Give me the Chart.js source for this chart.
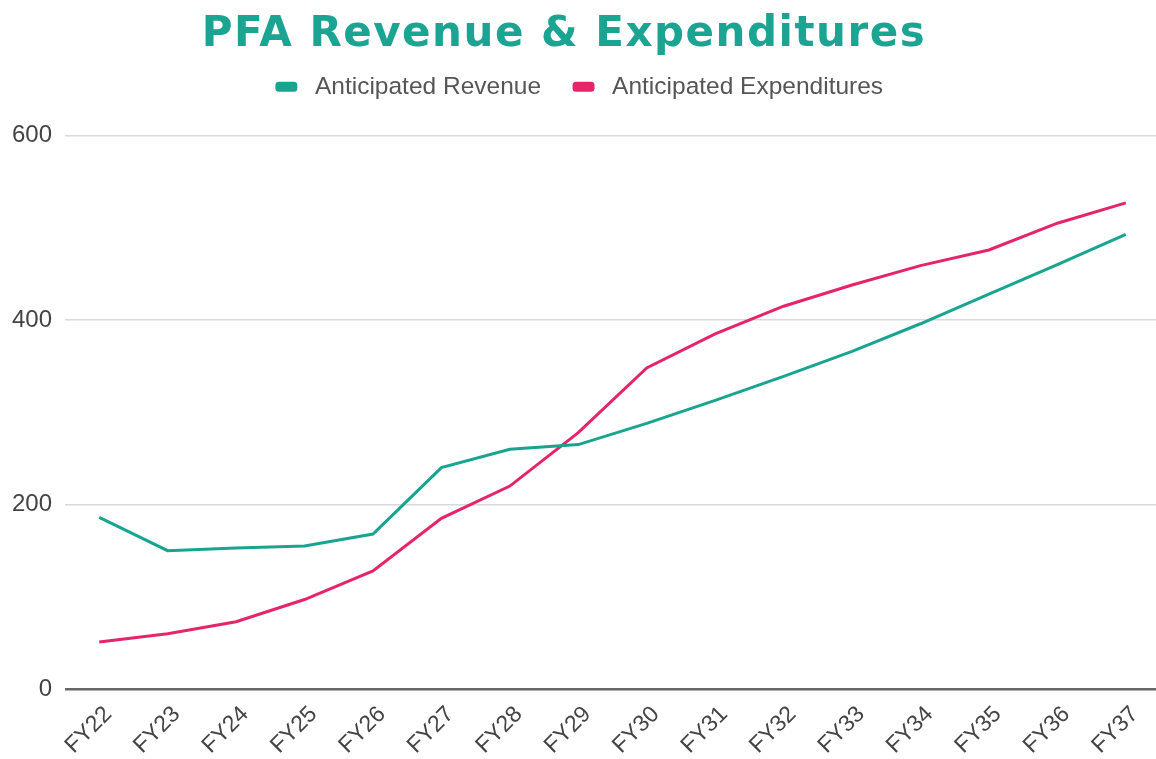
<!DOCTYPE html>
<html>
<head>
<meta charset="utf-8">
<script src="https://cdn.jsdelivr.net/npm/chart.js@4"></script>
<style>
  html, body { margin: 0; padding: 0; background: #fff; overflow: hidden; }
  #wrap { width: 1160px; height: 759px; position: relative; }
</style>
</head>
<body>
<div id="wrap"><canvas id="chart"></canvas></div>
<script>
// data
const years = ['FY22', 'FY23', 'FY24', 'FY25', 'FY26', 'FY27', 'FY28', 'FY29',
               'FY30', 'FY31', 'FY32', 'FY33', 'FY34', 'FY35', 'FY36', 'FY37'];
const revenue = [186, 150, 153, 155, 168, 240, 260, 265, 288, 313, 339, 366, 396, 428, 460, 493];
const expenditures = [51, 60, 73, 97, 128, 185, 220, 278, 348, 385, 415, 438, 459, 476, 505, 527];
const yTicks = [0, 200, 400, 600];

const teal = '#18a48f';
const pink = '#e5246a';

// fixed legend height so the plot starts lower, and a wider title
const layoutTweaks = {
    id: 'layoutTweaks',
    beforeInit(chart) {
        const fit = chart.legend.fit;
        chart.legend.fit = function () {
            fit.call(this);
            this.height = 94;
        };
        const draw = chart.titleBlock.draw;
        chart.titleBlock.draw = function () {
            const c = this.ctx;
            c.save();
            c.letterSpacing = '1.5px';
            draw.call(this);
            c.restore();
        };
    }
};

const ctx = document.getElementById('chart').getContext('2d');
new Chart(ctx, {
    type: 'line',
    data: {
        labels: years,
        datasets: [
            { label: 'Anticipated Revenue', data: revenue, borderColor: teal, backgroundColor: teal },
            { label: 'Anticipated Expenditures', data: expenditures, borderColor: pink, backgroundColor: pink }
        ]
    },
    plugins: [layoutTweaks],
    options: {
        responsive: true,
        maintainAspectRatio: false,
        animation: false,
        layout: { padding: 0 },
        elements: {
            line: { borderWidth: 3, tension: 0 },
            point: { radius: 0 }
        },
        plugins: {
            title: {
                display: true,
                // trailing spaces nudge the centred title a bit to the left
                text: 'PFA Revenue & Expenditures  ',
                color: '#1ba492',
                font: { family: 'DejaVu Sans', size: 42, weight: 'bold', lineHeight: 0.3 },
                padding: { top: 29, bottom: 0 }
            },
            legend: {
                labels: {
                    color: '#555',
                    font: { family: 'Liberation Sans', size: 24.5 },
                    boxWidth: 19,
                    boxHeight: 7,
                    useBorderRadius: true,
                    borderRadius: 2,
                    padding: 33,
                    generateLabels(chart) {
                        const items = Chart.defaults.plugins.legend.labels.generateLabels(chart);
                        items.forEach(it => { it.text = ' ' + it.text; });
                        return items;
                    }
                }
            },
            tooltip: { enabled: false }
        },
        scales: {
            x: {
                offset: true,
                grid: { display: false },
                border: { display: false },
                ticks: {
                    color: '#444',
                    font: { family: 'Liberation Sans', size: 23 },
                    maxRotation: 45,
                    minRotation: 45,
                    labelOffset: 9,
                    padding: 4
                },
                afterFit(s) { s.height = 70; }
            },
            y: {
                min: 0,
                max: 600,
                border: { display: false },
                grid: {
                    drawTicks: false,
                    color: c => c.tick.value === 0 ? '#666' : '#d9d9d9',
                    lineWidth: c => c.tick.value === 0 ? 2.5 : 1.5
                },
                afterBuildTicks(s) { s.ticks = yTicks.map(v => ({ value: v })); },
                ticks: {
                    color: '#444',
                    font: { family: 'Liberation Sans', size: 24 },
                    padding: 13
                },
                afterFit(s) { s.width = 65; }
            }
        }
    }
});
</script>
</body>
</html>
